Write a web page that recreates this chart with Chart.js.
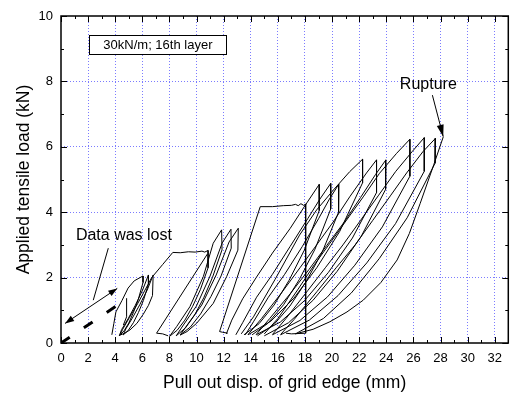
<!DOCTYPE html>
<html>
<head>
<meta charset="utf-8">
<script src="https://cdn.jsdelivr.net/npm/chart.js@4"></script>
<style>
  body { margin: 0; background: #fff; }
  canvas { display: block; }
</style>
</head>
<body>
<canvas id="pulloutChart" width="510" height="396"></canvas>
<script>
// axis ticks
const xTicks = [0, 2, 4, 6, 8, 10, 12, 14, 16, 18, 20, 22, 24, 26, 28, 30, 32];
const yTicks = [0, 2, 4, 6, 8, 10];

// stage 1 (peak ~2 kN)
const s1Loop1 = [[3.75,0.25],[3.9,0.6],[4.05,0.95],[4.5,1.3],[4.95,1.68],[5.4,1.9],[6.05,2.05],[6.05,1.85],[5.7,1.33],[5.35,0.94],[5.0,0.61],[4.65,0.37],[4.3,0.22]];
const s1Loop2 = [[4.3,0.22],[4.47,0.41],[4.95,0.74],[5.48,1.15],[6.02,1.62],[6.45,2.08],[6.45,1.8],[6.08,1.3],[5.71,0.93],[5.34,0.62],[4.97,0.39],[4.6,0.25]];
const s1Kink = [[4.6,0.55],[4.84,0.8],[4.84,1.37]];
const s1Loop3 = [[4.6,0.25],[4.78,0.43],[5.26,0.76],[5.81,1.17],[6.36,1.62],[6.8,2.08],[6.75,1.45],[6.45,1.15],[6.07,0.88],[5.6,0.6],[5.09,0.4],[4.7,0.3],[4.35,0.24]];
const s1Creep = [[4.35,0.24],[4.55,0.42],[5.05,0.78],[5.65,1.2],[6.2,1.62],[6.69,2.0],[7.5,2.4],[8.25,2.77],[8.8,2.76],[9.4,2.79],[9.9,2.78],[10.4,2.81],[10.6,2.78],[10.85,2.83],[10.85,2.3],[10.28,1.63],[9.71,1.12],[9.14,0.7],[8.57,0.39],[8.0,0.2]];

// stage 2 (peak ~3.5 kN)
const s2Straight = [[7.9,0.22],[7.5,0.28],[7.05,0.3],[10.8,2.72]];
const s2Loop1 = [[8.0,0.2],[8.53,0.5],[9.51,1.11],[10.5,2.03],[11.23,3.05],[11.85,3.46],[11.88,2.85],[11.18,2.01],[10.53,1.38],[9.85,0.85],[9.18,0.46],[8.5,0.22]];
const s2Loop2 = [[8.5,0.22],[9.03,0.55],[9.99,1.13],[11.0,2.05],[11.89,3.06],[12.54,3.48],[12.56,2.9],[11.81,2.05],[11.06,1.42],[10.3,0.89],[9.55,0.49],[8.8,0.25]];
const s2Loop3 = [[8.8,0.25],[9.36,0.58],[10.38,1.16],[11.45,2.08],[12.4,3.09],[13.08,3.51],[13.05,2.84],[12.22,2.03],[11.23,1.21],[10.0,0.6],[9.3,0.35],[8.78,0.24]];

// stage 3 (creep at ~4.2 kN, peaks ~4.85 kN)
const s3Creep = [[12.3,0.3],[11.9,0.33],[11.7,0.35],[14.7,4.17],[15.6,4.17],[16.4,4.2],[17.0,4.21],[17.3,4.24],[17.5,4.2],[17.7,4.26],[17.9,4.21],[18.05,4.25],[18.05,0.3],[17.0,0.28],[16.6,0.3]];
const s3Loop1 = [[12.2,0.28],[12.6,0.7],[13.4,1.35],[14.4,2.0],[15.6,2.75],[16.9,3.5],[18.0,4.2],[19.05,4.85],[19.05,4.05],[17.94,2.83],[16.83,1.92],[15.72,1.16],[14.61,0.59],[13.5,0.25]];
const s3Loop2 = [[12.9,0.25],[13.4,0.62],[14.43,1.4],[15.6,2.1],[16.9,2.95],[18.2,3.8],[19.1,4.4],[19.9,4.88],[19.9,4.1],[18.74,2.87],[17.58,1.94],[16.42,1.17],[15.26,0.6],[14.1,0.25]];
const s3Loop3 = [[13.6,0.25],[14.2,0.65],[15.3,1.4],[16.5,2.1],[17.8,2.95],[19.0,3.8],[19.8,4.4],[20.5,4.86],[20.48,4.0],[19.28,2.79],[18.09,1.88],[16.89,1.13],[15.7,0.56],[14.5,0.22]];

// stage 4 (peaks ~5.6 kN)
const s4Loop1 = [[13.3,0.28],[14.2,0.8],[15.8,1.95],[17.6,3.3],[18.86,4.07],[20.1,4.68],[21.3,5.24],[22.25,5.62],[22.25,4.9],[20.56,3.41],[18.87,2.3],[17.18,1.37],[15.49,0.67],[13.8,0.25]];
const s4Loop2 = [[13.8,0.26],[14.8,0.75],[16.3,1.55],[17.63,2.3],[18.86,3.0],[20.08,3.7],[21.3,4.47],[22.54,5.2],[23.28,5.6],[23.28,4.6],[21.5,3.21],[19.73,2.16],[17.95,1.29],[16.18,0.64],[14.4,0.25]];
const s4Loop3 = [[14.4,0.26],[15.4,0.75],[16.9,1.5],[18.3,2.25],[19.6,2.98],[20.9,3.7],[22.1,4.45],[23.2,5.15],[23.97,5.6],[23.95,4.7],[22.16,3.27],[20.37,2.19],[18.58,1.3],[16.79,0.62],[15.0,0.22]];

// stage 5 (peaks ~6.25 kN) and rupture
const s5Loop1 = [[15.0,0.28],[16.0,0.75],[17.5,1.65],[18.7,2.4],[19.84,3.05],[21.07,3.76],[22.3,4.47],[23.5,5.19],[24.76,5.8],[25.74,6.23],[25.74,5.1],[23.71,3.55],[21.68,2.38],[19.66,1.41],[17.63,0.69],[15.6,0.25]];
const s5Loop2 = [[15.6,0.26],[16.6,0.75],[18.2,1.6],[19.5,2.3],[20.8,3.0],[22.1,3.75],[23.4,4.5],[24.7,5.25],[25.9,5.85],[26.8,6.28],[26.8,5.25],[24.68,3.65],[22.56,2.45],[20.44,1.45],[18.32,0.7],[16.2,0.25]];
const s5Loop3 = [[16.2,0.26],[17.2,0.72],[18.9,1.58],[20.3,2.3],[21.7,3.0],[23.0,3.75],[24.3,4.5],[25.5,5.2],[26.7,5.85],[27.63,6.26],[27.6,5.5],[25.54,3.83],[23.48,2.58],[21.42,1.53],[19.36,0.75],[17.3,0.28]];
const rupture = [[17.3,0.28],[18.6,0.42],[19.84,0.65],[21.1,0.95],[22.3,1.31],[23.6,1.85],[24.8,2.54],[25.7,3.35],[26.5,4.27],[27.5,5.45],[28.2,6.3]];

const curves = [s1Loop1, s1Loop2, s1Kink, s1Loop3, s1Creep, s2Straight, s2Loop1, s2Loop2, s2Loop3,
  s3Creep, s3Loop1, s3Loop2, s3Loop3, s4Loop1, s4Loop2, s4Loop3, s5Loop1, s5Loop2, s5Loop3, rupture];

// annotations (data coordinates)
const lostDashed = [[0,0],[4.15,1.15]];
const lostArrow = [[0.3,0.6],[4.15,1.67]];
const lostPointer = [[3.49,2.9],[2.38,1.31]];
const ruptureArrow = [[27.4,7.58],[28.2,6.31]];

const FONT = "'Liberation Sans', Arial, sans-serif";
const toPts = a => a.map(p => ({x: p[0], y: p[1]}));

function arrowHead(ctx, x0, y0, x1, y1, len, half) {
    const ang = Math.atan2(y1 - y0, x1 - x0);
    const bx = x1 - len * Math.cos(ang), by = y1 - len * Math.sin(ang);
    ctx.beginPath();
    ctx.moveTo(x1, y1);
    ctx.lineTo(bx + half * Math.sin(ang), by - half * Math.cos(ang));
    ctx.lineTo(bx - half * Math.sin(ang), by + half * Math.cos(ang));
    ctx.closePath();
    ctx.fill();
}

const overlay = {
    id: 'overlay',
    afterDatasetsDraw(chart) {
        const {ctx, chartArea: a, scales: {x, y}} = chart;
        const px = v => x.getPixelForValue(v);
        const py = v => y.getPixelForValue(v);
        ctx.save();
        ctx.strokeStyle = '#000';
        ctx.fillStyle = '#000';

        // tick marks pointing inward on all four sides
        ctx.lineWidth = 1;
        ctx.beginPath();
        xTicks.forEach(v => {
            const X = Math.round(px(v)) + 0.5;
            ctx.moveTo(X, a.bottom); ctx.lineTo(X, a.bottom - 6);
            ctx.moveTo(X, a.top); ctx.lineTo(X, a.top + 6);
            if (v + 1 < x.max) {
                const M = Math.round(px(v + 1)) + 0.5;
                ctx.moveTo(M, a.bottom); ctx.lineTo(M, a.bottom - 3);
                ctx.moveTo(M, a.top); ctx.lineTo(M, a.top + 3);
            }
        });
        yTicks.forEach(v => {
            const Y = Math.round(py(v)) + 0.5;
            ctx.moveTo(a.left, Y); ctx.lineTo(a.left + 6, Y);
            ctx.moveTo(a.right, Y); ctx.lineTo(a.right - 6, Y);
            if (v + 1 < y.max) {
                const M = Math.round(py(v + 1)) + 0.5;
                ctx.moveTo(a.left, M); ctx.lineTo(a.left + 3, M);
                ctx.moveTo(a.right, M); ctx.lineTo(a.right - 3, M);
            }
        });
        ctx.stroke();

        // frame
        ctx.lineWidth = 1.5;
        ctx.strokeRect(a.left, a.top, a.right - a.left, a.bottom - a.top);

        // label box
        const bl = px(2.09), bt = py(9.42), br = px(12.22), bb = py(8.84);
        ctx.fillStyle = '#fff';
        ctx.fillRect(bl, bt, br - bl, bb - bt);
        ctx.lineWidth = 1;
        ctx.strokeRect(Math.round(bl) + 0.5, Math.round(bt) + 0.5, Math.round(br - bl), Math.round(bb - bt));
        ctx.fillStyle = '#000';
        ctx.font = '13px ' + FONT;
        ctx.textAlign = 'center';
        ctx.textBaseline = 'alphabetic';
        ctx.fillText('30kN/m; 16th layer', px(7.15), py(8.98));

        // "Data was lost"
        ctx.font = '16px ' + FONT;
        ctx.textAlign = 'left';
        ctx.fillText('Data was lost', px(1.1), py(3.15));
        ctx.lineWidth = 1;
        ctx.beginPath();
        ctx.moveTo(px(lostPointer[0][0]), py(lostPointer[0][1]));
        ctx.lineTo(px(lostPointer[1][0]), py(lostPointer[1][1]));
        ctx.stroke();
        const ax0 = px(lostArrow[0][0]), ay0 = py(lostArrow[0][1]);
        const ax1 = px(lostArrow[1][0]), ay1 = py(lostArrow[1][1]);
        ctx.beginPath();
        ctx.moveTo(ax0, ay0); ctx.lineTo(ax1, ay1);
        ctx.stroke();
        arrowHead(ctx, ax0, ay0, ax1, ay1, 9, 3.2);
        arrowHead(ctx, ax1, ay1, ax0, ay0, 9, 3.2);

        // "Rupture"
        ctx.textAlign = 'center';
        ctx.fillText('Rupture', px(27.1), py(7.78));
        const rx0 = px(ruptureArrow[0][0]), ry0 = py(ruptureArrow[0][1]);
        const rx1 = px(ruptureArrow[1][0]), ry1 = py(ruptureArrow[1][1]);
        ctx.beginPath();
        ctx.moveTo(rx0, ry0); ctx.lineTo(rx1, ry1);
        ctx.stroke();
        arrowHead(ctx, rx0, ry0, rx1, ry1, 12, 3.5);

        ctx.restore();
    }
};

const gridColor = 'rgba(100, 100, 255, 0.85)';

const datasets = curves.map(c => ({
    data: toPts(c),
    showLine: true,
    borderColor: '#000',
    borderWidth: 1,
    pointRadius: 0,
    fill: false,
    tension: 0
}));
datasets.push({
    data: toPts(lostDashed),
    showLine: true,
    borderColor: '#000',
    borderWidth: 3,
    borderDash: [10.5, 17],
    pointRadius: 0,
    fill: false
});

new Chart(document.getElementById('pulloutChart'), {
    type: 'scatter',
    data: { datasets: datasets },
    options: {
        responsive: false,
        animation: false,
        devicePixelRatio: 1,
        layout: { padding: { top: 16, right: 1, left: 0, bottom: 0 } },
        plugins: {
            legend: { display: false },
            tooltip: { enabled: false }
        },
        scales: {
            x: {
                type: 'linear',
                min: 0,
                max: 33,
                afterBuildTicks: s => { s.ticks = xTicks.map(v => ({value: v})); },
                afterFit: s => { s.height = 53; },
                grid: {
                    color: c => (c.tick && c.tick.value > 0) ? gridColor : 'rgba(0,0,0,0)',
                    drawTicks: false,
                    lineWidth: 1
                },
                border: { display: false, dash: [1, 2] },
                ticks: { color: '#000', font: { family: FONT, size: 13 }, padding: 8, maxRotation: 0, autoSkip: false },
                title: {
                    display: true,
                    text: 'Pull out disp. of grid edge (mm)',
                    color: '#000',
                    font: { family: FONT, size: 17.5 },
                    padding: { top: 0, bottom: 2 }
                }
            },
            y: {
                type: 'linear',
                min: 0,
                max: 10,
                afterBuildTicks: s => { s.ticks = yTicks.map(v => ({value: v})); },
                afterFit: s => { s.width = 61; },
                grid: {
                    color: c => (c.tick && c.tick.value > 0 && c.tick.value < 10) ? gridColor : 'rgba(0,0,0,0)',
                    drawTicks: false,
                    lineWidth: 1
                },
                border: { display: false, dash: [1, 2] },
                ticks: { color: '#000', font: { family: FONT, size: 13 }, padding: 8 },
                title: {
                    display: true,
                    text: 'Applied tensile load (kN)',
                    color: '#000',
                    font: { family: FONT, size: 17.5 },
                    padding: { top: 14, bottom: 0 }
                }
            }
        }
    },
    plugins: [overlay]
});
</script>
</body>
</html>
